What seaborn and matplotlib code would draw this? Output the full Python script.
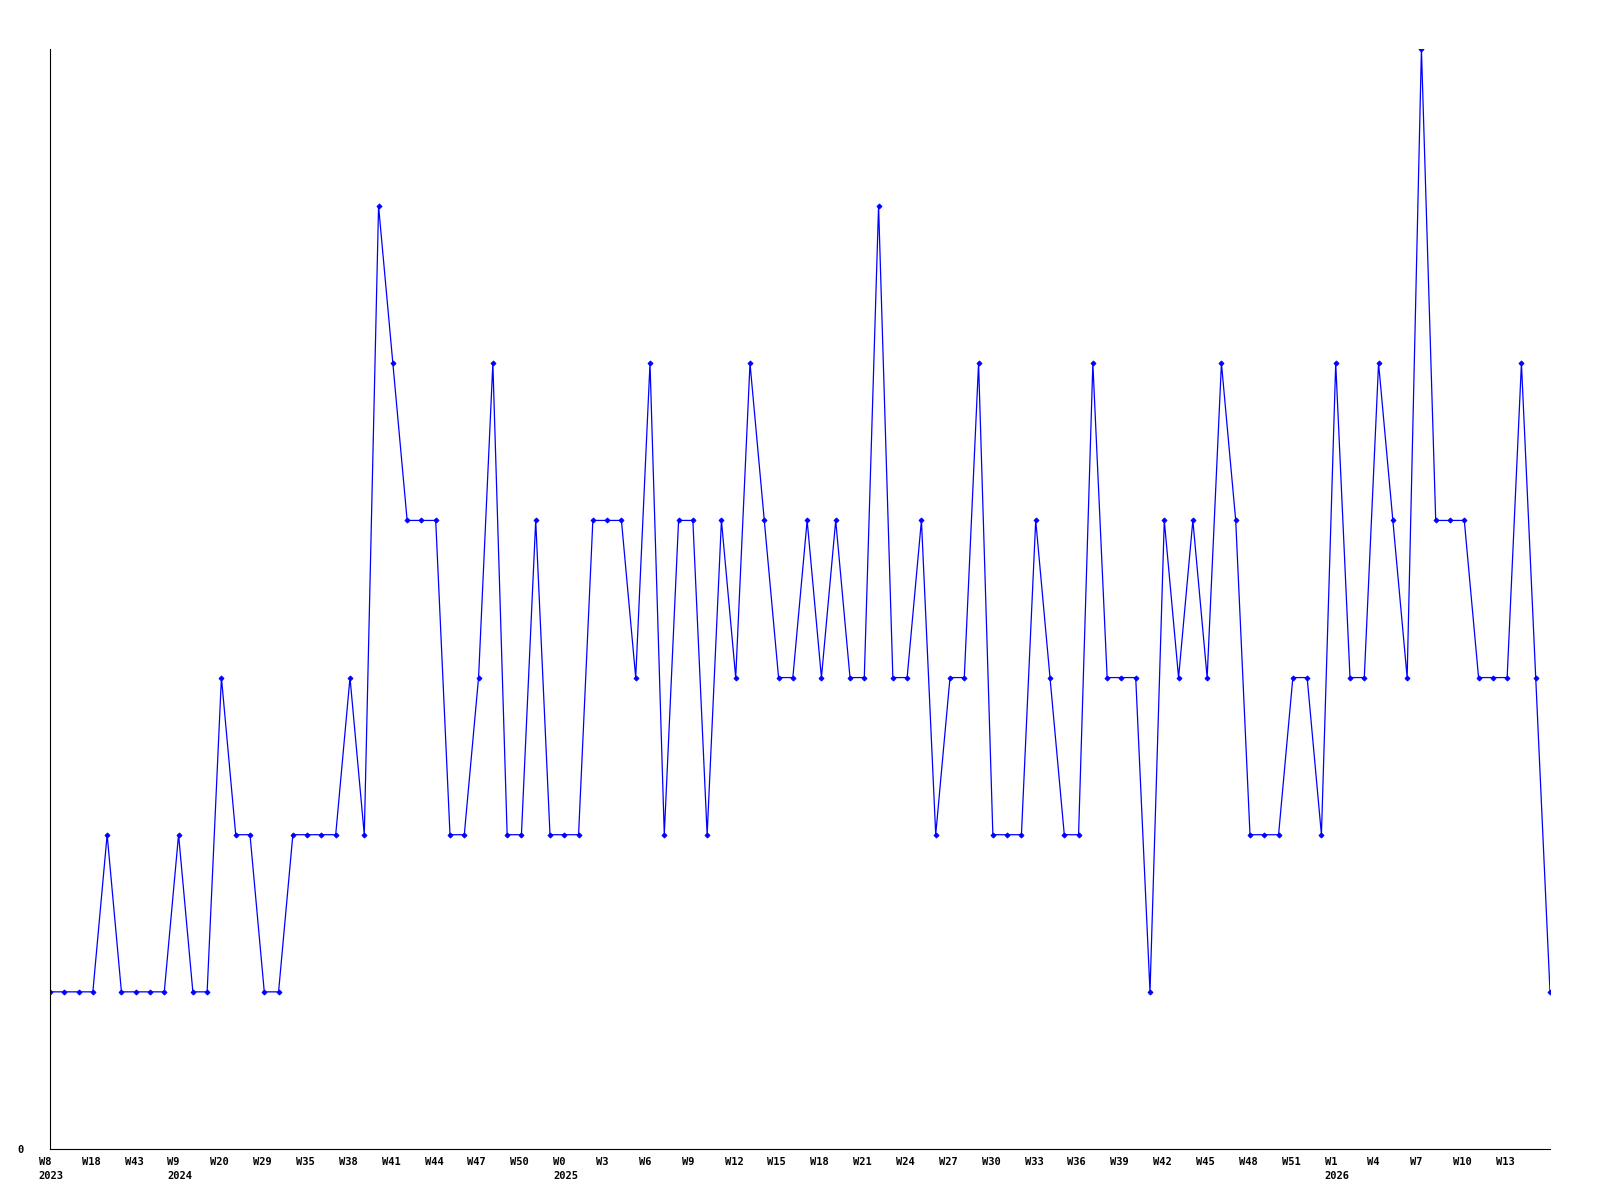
import matplotlib
matplotlib.use("Agg")
import matplotlib.pyplot as plt
import matplotlib.transforms as mtransforms
import seaborn as sns
import pandas as pd

values = [1, 1, 1, 1, 2, 1, 1, 1, 1, 2,
          1, 1, 3, 2, 2, 1, 1, 2, 2, 2,
          2, 3, 2, 6, 5, 4, 4, 4, 2, 2,
          3, 5, 2, 2, 4, 2, 2, 2, 4, 4,
          4, 3, 5, 2, 4, 4, 2, 4, 3, 5,
          4, 3, 3, 4, 3, 4, 3, 3, 6, 3,
          3, 4, 2, 3, 3, 5, 2, 2, 2, 4,
          3, 2, 2, 5, 3, 3, 3, 1, 4, 3,
          4, 3, 5, 4, 2, 2, 2, 3, 3, 2,
          5, 3, 3, 5, 4, 3, 7, 4, 4, 4,
          3, 3, 3, 5, 3, 1]

tick_labels = ["W8\n2023", "W18", "W43", "W9\n2024", "W20", "W29", "W35", "W38",
               "W41", "W44", "W47", "W50", "W0\n2025", "W3", "W6", "W9", "W12",
               "W15", "W18", "W21", "W24", "W27", "W30", "W33", "W36", "W39",
               "W42", "W45", "W48", "W51", "W1\n2026", "W4", "W7", "W10", "W13"]
tick_step = 3

df = pd.DataFrame({"idx": list(range(len(values))), "value": values})

sns.set_style("white")
plt.rcParams["font.family"] = ["DejaVu Sans Mono", "DejaVu Sans"]

fig = plt.figure(figsize=(16, 12), dpi=100)
ax = fig.add_axes([50 / 1600, 1 - 1149 / 1200, 1500 / 1600, 1100 / 1200])

sns.lineplot(data=df, x="idx", y="value", ax=ax, color="#0000FF",
             linewidth=0.9, marker="D", markersize=2.6, markeredgewidth=0.6,
             markeredgecolor="#0000FF")

ax.set_xticks([i * tick_step for i in range(len(tick_labels))])
ax.set_xticklabels(tick_labels, fontsize=7.5, fontweight="bold", ha="left",
                   linespacing=1.5)
ax.set_yticks([0])
ax.set_yticklabels(["0"], fontsize=7.5, fontweight="bold")
ax.tick_params(axis="both", length=0, colors="black")
ax.tick_params(axis="x", pad=6)
ax.tick_params(axis="y", pad=19)

ax.set_xlim(0, len(values) - 1)
ax.set_ylim(0, 7)

# shift x labels slightly left of their point (after tick_params)
offset = mtransforms.ScaledTranslation(-11.2 / 100, 0, fig.dpi_scale_trans)
for lbl in ax.get_xticklabels():
    lbl.set_transform(lbl.get_transform() + offset)

ax.set_xlabel("")
ax.set_ylabel("")
for s in ["top", "right"]:
    ax.spines[s].set_visible(False)
for s in ["left", "bottom"]:
    ax.spines[s].set_color("black")
    ax.spines[s].set_linewidth(0.8)
ax.grid(False)

fig.savefig("out.png", dpi=100)
